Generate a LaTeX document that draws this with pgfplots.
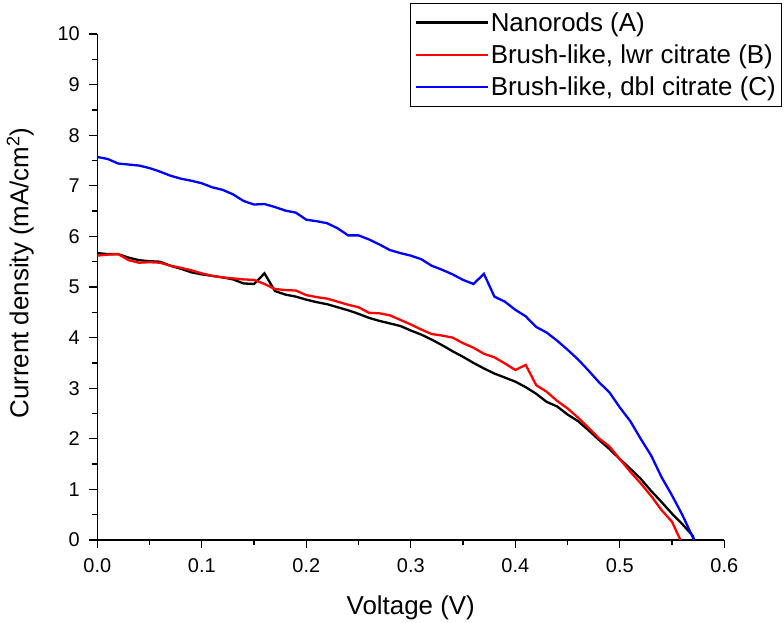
\documentclass[border=0pt]{standalone}
\usepackage{fontspec}
\setmainfont{Liberation Sans}
\usepackage{pgfplots}
\pgfplotsset{compat=1.18}
\begin{document}
\begin{tikzpicture}
\begin{axis}[
  scale only axis,
  width=627bp, height=506bp,
  xmin=0, xmax=0.6, ymin=0, ymax=10,
  axis lines*=left,
  axis line style={line width=1.5bp, black},
  xtick={0,0.1,0.2,0.3,0.4,0.5,0.6},
  xticklabels={0.0,0.1,0.2,0.3,0.4,0.5,0.6},
  ytick={0,1,2,3,4,5,6,7,8,9,10},
  minor x tick num=1, minor y tick num=1,
  tick align=outside,
  major tick length=8bp, minor tick length=5bp,
  every tick/.style={line width=1.3bp, black},
  /pgf/number format/assume math mode=true,
  tick label style={font=\fontsize{20}{24}\selectfont},
  xticklabel style={yshift=-7bp},
  yticklabel style={xshift=-6bp},
  xlabel={Voltage (V)},
  ylabel={Current density (mA/cm\textsuperscript{2})},
  every axis x label/.style={at={(axis description cs:0.5,0)}, anchor=base, yshift=-74bp, font=\fontsize{26}{31}\selectfont},
  every axis y label/.style={at={(axis description cs:0,0.5)}, rotate=90, anchor=center, xshift=14bp, yshift=77bp, font=\fontsize{26}{31}\selectfont},
  legend style={at={(axis description cs:0.4987,1.0613)}, anchor=north west, draw=black, line width=1bp,
    font=\fontsize{26}{31}\selectfont, row sep=8bp, inner xsep=4bp, inner ysep=7bp},
  legend cell align=left,
  legend image code/.code={\draw[#1, line width=2.3bp] (0bp,0bp) -- (60bp,0bp); \path (0bp,0bp) -- (72bp,0bp);},
]
\addplot[black, line width=2.3bp] table {
0.00 5.67
0.01 5.65
0.02 5.65
0.03 5.58
0.04 5.53
0.05 5.51
0.06 5.50
0.07 5.42
0.08 5.36
0.09 5.29
0.10 5.25
0.11 5.22
0.12 5.19
0.13 5.15
0.14 5.07
0.15 5.06
0.16 5.27
0.17 4.92
0.18 4.85
0.19 4.81
0.20 4.75
0.21 4.70
0.22 4.66
0.23 4.60
0.24 4.54
0.25 4.47
0.26 4.39
0.27 4.33
0.28 4.28
0.29 4.23
0.30 4.14
0.31 4.06
0.32 3.96
0.33 3.85
0.34 3.73
0.35 3.62
0.36 3.50
0.37 3.39
0.38 3.29
0.39 3.21
0.40 3.13
0.41 3.02
0.42 2.89
0.43 2.73
0.44 2.64
0.45 2.48
0.46 2.35
0.47 2.17
0.48 1.98
0.49 1.80
0.50 1.60
0.51 1.41
0.52 1.21
0.53 0.97
0.54 0.75
0.55 0.52
0.56 0.31
0.57 0.08
0.571 0.00
};
\addlegendentry{Nanorods (A)}
\addplot[red, line width=2.3bp] table {
0.00 5.62
0.01 5.64
0.02 5.65
0.03 5.53
0.04 5.48
0.05 5.49
0.06 5.48
0.07 5.42
0.08 5.38
0.09 5.33
0.10 5.27
0.11 5.22
0.12 5.19
0.13 5.17
0.14 5.15
0.15 5.14
0.16 5.06
0.17 4.96
0.18 4.94
0.19 4.93
0.20 4.84
0.21 4.80
0.22 4.77
0.23 4.71
0.24 4.65
0.25 4.60
0.26 4.49
0.27 4.48
0.28 4.44
0.29 4.35
0.30 4.26
0.31 4.16
0.32 4.07
0.33 4.04
0.34 4.00
0.35 3.89
0.36 3.80
0.37 3.68
0.38 3.61
0.39 3.49
0.40 3.36
0.41 3.46
0.42 3.06
0.43 2.93
0.44 2.75
0.45 2.60
0.46 2.42
0.47 2.22
0.48 2.01
0.49 1.85
0.50 1.60
0.51 1.35
0.52 1.12
0.53 0.87
0.54 0.59
0.55 0.36
0.558 0.00
};
\addlegendentry{Brush-like, lwr citrate (B)}
\addplot[blue, line width=2.3bp] table {
0.00 7.57
0.01 7.53
0.02 7.44
0.03 7.42
0.04 7.40
0.05 7.35
0.06 7.28
0.07 7.20
0.08 7.14
0.09 7.10
0.10 7.05
0.11 6.97
0.12 6.92
0.13 6.83
0.14 6.70
0.15 6.63
0.16 6.64
0.17 6.58
0.18 6.51
0.19 6.47
0.20 6.33
0.21 6.30
0.22 6.26
0.23 6.16
0.24 6.02
0.25 6.02
0.26 5.94
0.27 5.84
0.28 5.73
0.29 5.67
0.30 5.62
0.31 5.55
0.32 5.42
0.33 5.34
0.34 5.25
0.35 5.14
0.36 5.06
0.37 5.26
0.38 4.81
0.39 4.71
0.40 4.55
0.41 4.42
0.42 4.21
0.43 4.10
0.44 3.94
0.45 3.76
0.46 3.57
0.47 3.35
0.48 3.12
0.49 2.92
0.50 2.62
0.51 2.35
0.52 2.00
0.53 1.67
0.54 1.24
0.55 0.88
0.56 0.49
0.571 0.00
};
\addlegendentry{Brush-like, dbl citrate (C)}
\end{axis}
\path (current axis.south west) ++(-97.3bp,-82bp) rectangle ++(784bp,622bp);
\end{tikzpicture}
\end{document}
